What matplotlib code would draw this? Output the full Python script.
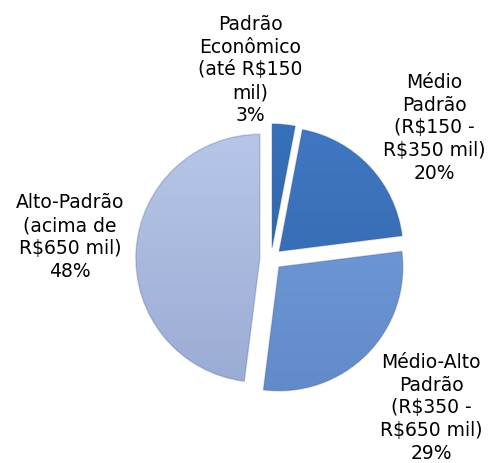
import matplotlib
matplotlib.use('Agg')
import numpy as np
import matplotlib.pyplot as plt
from matplotlib.colors import LinearSegmentedColormap

# data
categories = ['Padrão\nEconômico\n(até R$150\nmil)',
              'Médio\nPadrão\n(R$150 -\nR$350 mil)',
              'Médio-Alto\nPadrão\n(R$350 -\nR$650 mil)',
              'Alto-Padrão\n(acima de\nR$650 mil)']
shares = [3, 20, 29, 48]

# top / bottom colour of each slice (gradient)
top_colors = ['#3872bc', '#4279c4', '#76a0de', '#bac9ea']
bottom_colors = ['#2a5c9f', '#2d62a6', '#6189c8', '#98a9d2']

# label centres in pixel coords (x, y from top)
label_pos = [(250, 70), (434, 128), (431, 408), (70, 237)]

W, H = 489, 464
fig = plt.figure(figsize=(W / 100, H / 100), dpi=100)
ax = fig.add_axes([0, 0, 1, 1])

cx, cy, r = 271, H - 260, 124
# explode is in data units here (pixels)
wedges, _ = ax.pie(shares, startangle=90, counterclock=False,
                   explode=[0.09 * r] * 4, center=(cx, cy), radius=r,
                   wedgeprops=dict(linewidth=0))

grad = np.linspace(1, 0, 256).reshape(-1, 1)
for w, c0, c1 in zip(wedges, top_colors, bottom_colors):
    cmap = LinearSegmentedColormap.from_list('g', [c1, c0])
    w.set_facecolor('none')
    im = ax.imshow(grad, cmap=cmap,
                   extent=(cx - r - 30, cx + r + 30, cy - r - 30, cy + r + 30),
                   aspect='auto', zorder=1, origin='upper', vmin=0, vmax=1)
    im.set_clip_path(w)
    # soft rim like a bevel
    w.set_edgecolor((0.2, 0.3, 0.45, 0.25))
    w.set_linewidth(1.0)
    w.set_zorder(2)

for lab, s, (x, y) in zip(categories, shares, label_pos):
    ax.text(x, H - y, f'{lab}\n{s}%', ha='center', va='center',
            fontsize=13.5, family='DejaVu Sans', linespacing=1.26, color='black')

ax.set_xlim(0, W)
ax.set_ylim(0, H)
ax.set_aspect('equal')
ax.axis('off')

fig.savefig('out.png', dpi=100)
